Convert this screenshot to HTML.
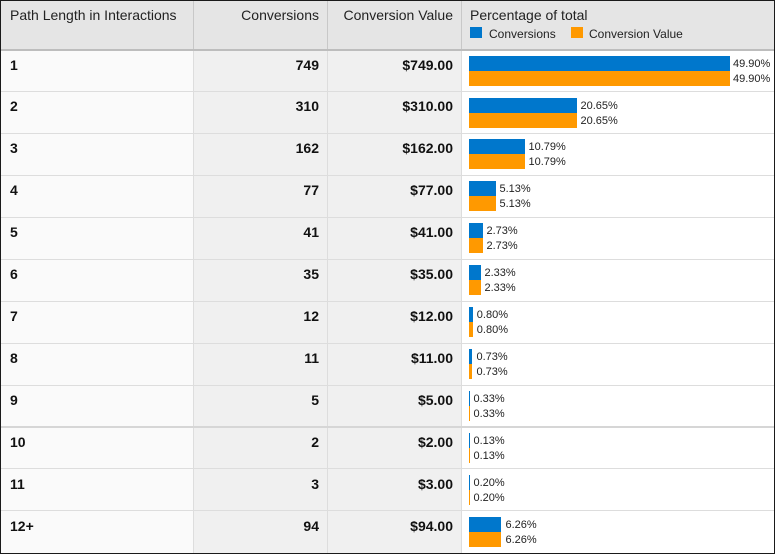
<!DOCTYPE html>
<html>
<head>
<meta charset="utf-8">
<style>
  html,body{margin:0;padding:0;background:#fff;}
  svg{display:block;}
  text{font-family:"Liberation Sans",Arial,sans-serif;}
  .hd{font-size:14px;fill:#222;}
  .lg{font-size:12px;fill:#222;}
  .bd{font-size:14px;font-weight:bold;fill:#111;}
  .pc{font-size:11px;fill:#222;}
</style>
</head>
<body>
<svg width="775" height="554" viewBox="0 0 775 554" xmlns="http://www.w3.org/2000/svg">
  <rect x="0" y="0" width="775" height="554" fill="#fff"/>
  <!-- header -->
  <rect x="1" y="1" width="773" height="48" fill="#e5e5e5"/>
  <rect x="1" y="49" width="773" height="2" fill="#bdbdbd"/>
  <!-- body column backgrounds -->
  <rect x="1" y="51" width="192" height="502" fill="#fafafa"/>
  <rect x="194" y="51" width="133" height="502" fill="#f0f0f0"/>
  <rect x="328" y="51" width="133" height="502" fill="#f0f0f0"/>
  <rect x="462" y="51" width="312" height="502" fill="#ffffff"/>
  <!-- header separators -->
  <rect x="193" y="1" width="1" height="48" fill="#c8c8c8"/>
  <rect x="327" y="1" width="1" height="48" fill="#c8c8c8"/>
  <rect x="461" y="1" width="1" height="48" fill="#c8c8c8"/>
  <!-- body separators -->
  <rect x="193" y="51" width="1" height="502" fill="#dddddd"/>
  <rect x="327" y="51" width="1" height="502" fill="#dddddd"/>
  <rect x="461" y="51" width="1" height="502" fill="#dddddd"/>
  <!-- row borders -->
  <g fill="#dddddd">
    <rect x="1" y="91" width="773" height="1"/>
    <rect x="1" y="133" width="773" height="1"/>
    <rect x="1" y="175" width="773" height="1"/>
    <rect x="1" y="217" width="773" height="1"/>
    <rect x="1" y="259" width="773" height="1"/>
    <rect x="1" y="301" width="773" height="1"/>
    <rect x="1" y="343" width="773" height="1"/>
    <rect x="1" y="385" width="773" height="1"/>
    <rect x="1" y="468" width="773" height="1"/>
    <rect x="1" y="510" width="773" height="1"/>
  </g>
  <rect x="1" y="426" width="773" height="2" fill="#d6d6d6"/>
  <!-- outer border -->
  <rect x="0.5" y="0.5" width="774" height="553" fill="none" stroke="#1a1a1a" stroke-width="1"/>

  <!-- header text -->
  <text class="hd" x="10" y="20">Path Length in Interactions</text>
  <text class="hd" x="319" y="20" text-anchor="end">Conversions</text>
  <text class="hd" x="453" y="20" text-anchor="end">Conversion Value</text>
  <text class="hd" x="470" y="20">Percentage of total</text>
  <rect x="470" y="27" width="12" height="11" fill="#0077cc"/>
  <text class="lg" x="489" y="38">Conversions</text>
  <rect x="571" y="27" width="12" height="11" fill="#ff9900"/>
  <text class="lg" x="589" y="38">Conversion Value</text>

  <!-- row 1 (top 51) -->
  <text class="bd" x="10" y="70">1</text>
  <text class="bd" x="319" y="70" text-anchor="end">749</text>
  <text class="bd" x="453" y="70" text-anchor="end">$749.00</text>
  <rect x="469" y="56" width="261" height="15" fill="#0077cc"/>
  <rect x="469" y="71" width="261" height="15" fill="#ff9900"/>
  <text class="pc" x="733" y="67">49.90%</text>
  <text class="pc" x="733" y="82">49.90%</text>

  <!-- row 2 (top 92) -->
  <text class="bd" x="10" y="111">2</text>
  <text class="bd" x="319" y="111" text-anchor="end">310</text>
  <text class="bd" x="453" y="111" text-anchor="end">$310.00</text>
  <rect x="469" y="98" width="108" height="15" fill="#0077cc"/>
  <rect x="469" y="113" width="108" height="15" fill="#ff9900"/>
  <text class="pc" x="580.5" y="109">20.65%</text>
  <text class="pc" x="580.5" y="124">20.65%</text>

  <!-- row 3 (top 134) -->
  <text class="bd" x="10" y="153">3</text>
  <text class="bd" x="319" y="153" text-anchor="end">162</text>
  <text class="bd" x="453" y="153" text-anchor="end">$162.00</text>
  <rect x="469" y="139" width="56" height="15" fill="#0077cc"/>
  <rect x="469" y="154" width="56" height="15" fill="#ff9900"/>
  <text class="pc" x="528.5" y="150">10.79%</text>
  <text class="pc" x="528.5" y="165">10.79%</text>

  <!-- row 4 (top 176) -->
  <text class="bd" x="10" y="195">4</text>
  <text class="bd" x="319" y="195" text-anchor="end">77</text>
  <text class="bd" x="453" y="195" text-anchor="end">$77.00</text>
  <rect x="469" y="181" width="27" height="15" fill="#0077cc"/>
  <rect x="469" y="196" width="27" height="15" fill="#ff9900"/>
  <text class="pc" x="499.5" y="192">5.13%</text>
  <text class="pc" x="499.5" y="207">5.13%</text>

  <!-- row 5 (top 218) -->
  <text class="bd" x="10" y="237">5</text>
  <text class="bd" x="319" y="237" text-anchor="end">41</text>
  <text class="bd" x="453" y="237" text-anchor="end">$41.00</text>
  <rect x="469" y="223" width="14" height="15" fill="#0077cc"/>
  <rect x="469" y="238" width="14" height="15" fill="#ff9900"/>
  <text class="pc" x="486.5" y="234">2.73%</text>
  <text class="pc" x="486.5" y="249">2.73%</text>

  <!-- row 6 (top 260) -->
  <text class="bd" x="10" y="279">6</text>
  <text class="bd" x="319" y="279" text-anchor="end">35</text>
  <text class="bd" x="453" y="279" text-anchor="end">$35.00</text>
  <rect x="469" y="265" width="12" height="15" fill="#0077cc"/>
  <rect x="469" y="280" width="12" height="15" fill="#ff9900"/>
  <text class="pc" x="484.5" y="276">2.33%</text>
  <text class="pc" x="484.5" y="291">2.33%</text>

  <!-- row 7 (top 302) -->
  <text class="bd" x="10" y="321">7</text>
  <text class="bd" x="319" y="321" text-anchor="end">12</text>
  <text class="bd" x="453" y="321" text-anchor="end">$12.00</text>
  <rect x="469" y="307" width="4" height="15" fill="#0077cc"/>
  <rect x="469" y="322" width="4" height="15" fill="#ff9900"/>
  <text class="pc" x="476.8" y="318">0.80%</text>
  <text class="pc" x="476.8" y="333">0.80%</text>

  <!-- row 8 (top 344) -->
  <text class="bd" x="10" y="363">8</text>
  <text class="bd" x="319" y="363" text-anchor="end">11</text>
  <text class="bd" x="453" y="363" text-anchor="end">$11.00</text>
  <rect x="469" y="349" width="3" height="15" fill="#0077cc"/>
  <rect x="469" y="364" width="3" height="15" fill="#ff9900"/>
  <text class="pc" x="476.5" y="360">0.73%</text>
  <text class="pc" x="476.5" y="375">0.73%</text>

  <!-- row 9 (top 386) -->
  <text class="bd" x="10" y="405">9</text>
  <text class="bd" x="319" y="405" text-anchor="end">5</text>
  <text class="bd" x="453" y="405" text-anchor="end">$5.00</text>
  <rect x="469" y="391" width="1" height="15" fill="#0077cc"/>
  <rect x="469" y="406" width="1" height="15" fill="#ff9900"/>
  <text class="pc" x="473.5" y="402">0.33%</text>
  <text class="pc" x="473.5" y="417">0.33%</text>

  <!-- row 10 (top 428) -->
  <text class="bd" x="10" y="447">10</text>
  <text class="bd" x="319" y="447" text-anchor="end">2</text>
  <text class="bd" x="453" y="447" text-anchor="end">$2.00</text>
  <rect x="469" y="433" width="1" height="15" fill="#0077cc"/>
  <rect x="469" y="448" width="1" height="15" fill="#ff9900"/>
  <text class="pc" x="473.5" y="444">0.13%</text>
  <text class="pc" x="473.5" y="459">0.13%</text>

  <!-- row 11 (top 469) -->
  <text class="bd" x="10" y="489">11</text>
  <text class="bd" x="319" y="489" text-anchor="end">3</text>
  <text class="bd" x="453" y="489" text-anchor="end">$3.00</text>
  <rect x="469" y="475" width="1" height="15" fill="#0077cc"/>
  <rect x="469" y="490" width="1" height="15" fill="#ff9900"/>
  <text class="pc" x="473.5" y="486">0.20%</text>
  <text class="pc" x="473.5" y="501">0.20%</text>

  <!-- row 12 (top 511) -->
  <text class="bd" x="10" y="531">12+</text>
  <text class="bd" x="319" y="531" text-anchor="end">94</text>
  <text class="bd" x="453" y="531" text-anchor="end">$94.00</text>
  <rect x="469" y="517" width="32" height="15" fill="#0077cc"/>
  <rect x="469" y="532" width="32" height="15" fill="#ff9900"/>
  <text class="pc" x="505.5" y="528">6.26%</text>
  <text class="pc" x="505.5" y="543">6.26%</text>
</svg>
</body>
</html>
